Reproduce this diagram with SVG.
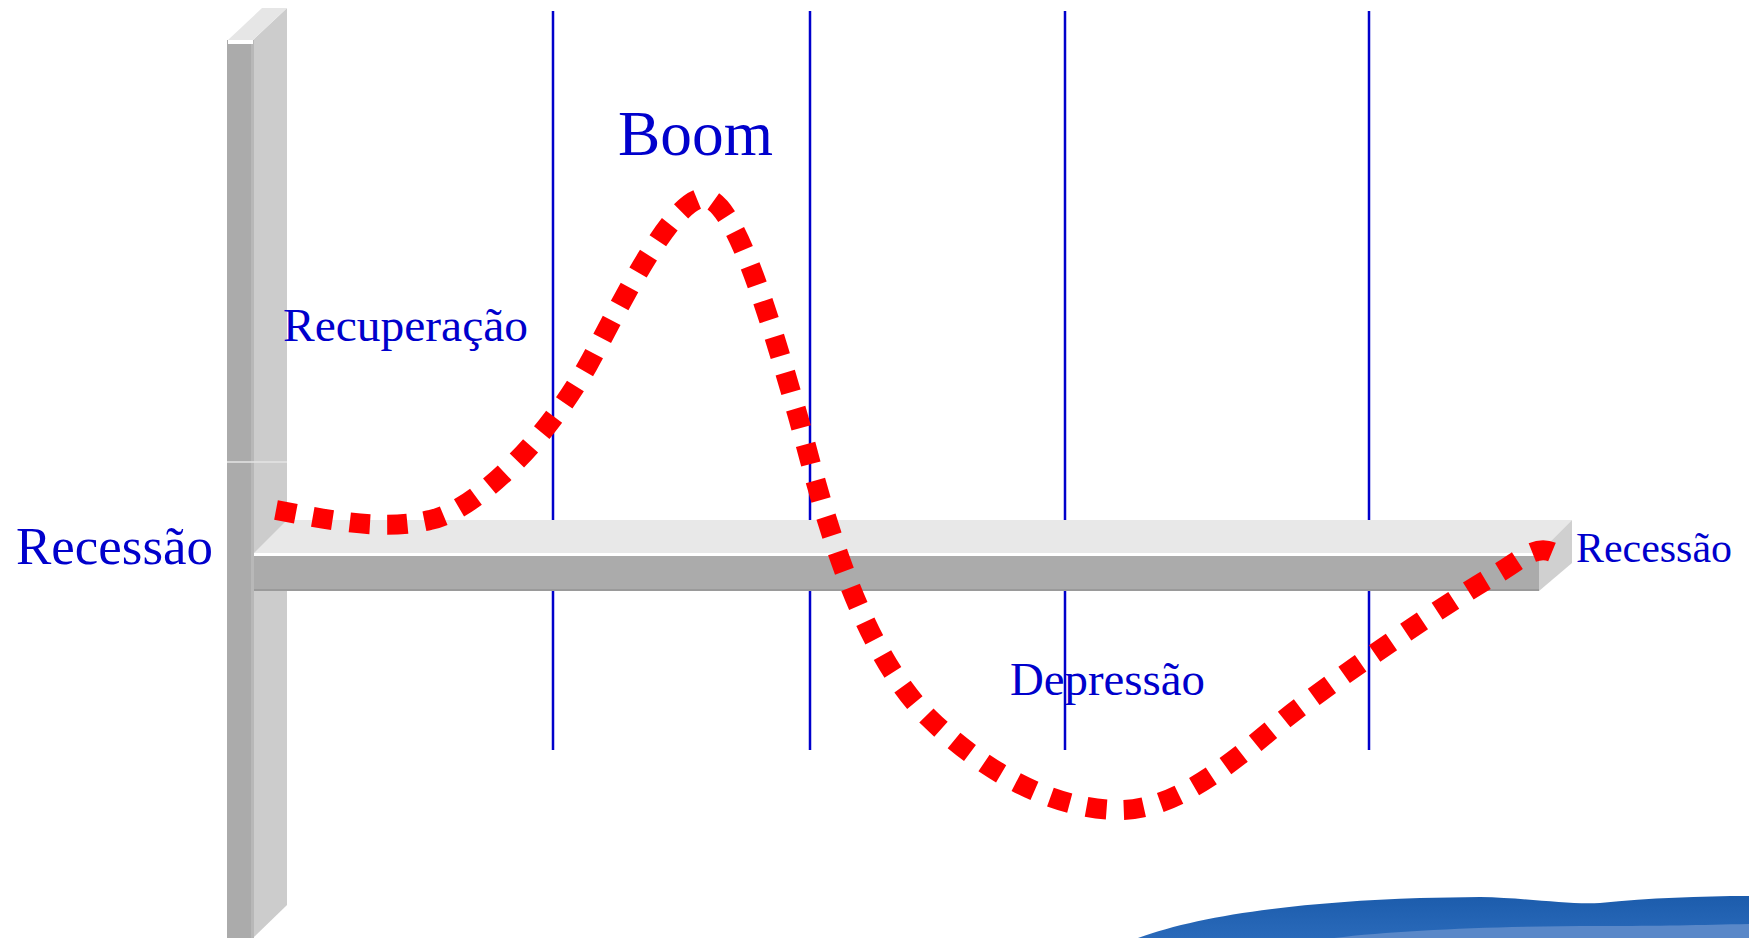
<svg xmlns="http://www.w3.org/2000/svg" width="1749" height="938" viewBox="0 0 1749 938">
<style>
.lbl{font-family:"Liberation Serif","Times New Roman",serif;fill:#0000CC}
.vline{stroke:#0000CC;stroke-width:2.5;fill:none}
.curve{stroke:#FF0000;stroke-width:20;fill:none;stroke-dasharray:20 17}
</style>
<defs>
<linearGradient id="wave" x1="0" y1="0" x2="0" y2="1">
<stop offset="0" stop-color="#1C5CAC"/>
<stop offset="1" stop-color="#2A6ABA"/>
</linearGradient>
</defs>
<rect width="1749" height="938" fill="#FFFFFF"/>
<g id="wave-deco">
<path d="M1138 938 C1200 915 1300 902 1420 898 L1480 897 C1530 898 1570 905 1600 903 C1650 898 1700 896 1749 896 L1749 938 Z" fill="url(#wave)"/>
<path d="M1334 938 C1400 930 1500 926 1600 926 C1660 926 1700 925 1749 924 L1749 938 Z" fill="#5A88C8"/>
</g>
<g id="labels">
<text id="lbl-depressao" class="lbl" x="1010" y="695" font-size="47" textLength="195" lengthAdjust="spacingAndGlyphs">Depressão</text>
</g>
<g id="phase-lines">
<line class="vline" x1="553" y1="11" x2="553" y2="750"/>
<line class="vline" x1="810" y1="11" x2="810" y2="750"/>
<line class="vline" x1="1065" y1="11" x2="1065" y2="750"/>
<line class="vline" x1="1369" y1="11" x2="1369" y2="750"/>
</g>
<g id="y-axis">
<polygon points="253,40 287,8 287,905 253,938" fill="#CCCCCC"/>
<rect x="227" y="40" width="26" height="898" fill="#ABABAB"/>
<rect x="251" y="40" width="3" height="898" fill="#B8B8B8"/>
<polygon points="228,40 253,40 287,8 262,8" fill="#E6E6E6"/>
<rect x="228" y="40" width="25" height="4" fill="#FFFFFF"/>
<line x1="227" y1="462" x2="287" y2="462" stroke="#E4E4E4" stroke-width="1.5"/>
</g>
<g id="x-axis">
<polygon points="254,553 287,520 1572,520 1539,553" fill="#E8E8E8"/>
<rect x="254" y="553" width="1285" height="3" fill="#FFFFFF"/>
<rect x="254" y="556" width="1285" height="35" fill="#ABABAB"/>
<rect x="254" y="589" width="1285" height="2" fill="#9A9A9A"/>
<polygon points="1539,553 1572,520 1572,563 1539,591" fill="#D0D0D0"/>
</g>
<g id="connectors">
<path class="curve" pathLength="1870" d="M276 510 C320 518 380 532 430 520 C470 512 540 450 588 365 C612 322 670 198 704 198 C735 198 770 320 797 413 C815 475 850 640 929 718 C980 768 1050 810 1120 810 C1180 810 1240 755 1286 718 C1330 683 1450 600 1500 572 C1520 560 1535 545 1552 552"/>
</g>
<g id="node-recessao-left"><text class="lbl" x="16" y="564" font-size="53" textLength="197" lengthAdjust="spacingAndGlyphs">Recessão</text></g>
<g id="node-recuperacao"><text class="lbl" x="283" y="341" font-size="47" textLength="245" lengthAdjust="spacingAndGlyphs">Recuperação</text></g>
<g id="node-boom"><text class="lbl" x="618" y="155" font-size="63" textLength="155" lengthAdjust="spacingAndGlyphs">Boom</text></g>
<g id="node-recessao-right"><text class="lbl" x="1576" y="562" font-size="42" textLength="156" lengthAdjust="spacingAndGlyphs">Recessão</text></g>
</svg>
